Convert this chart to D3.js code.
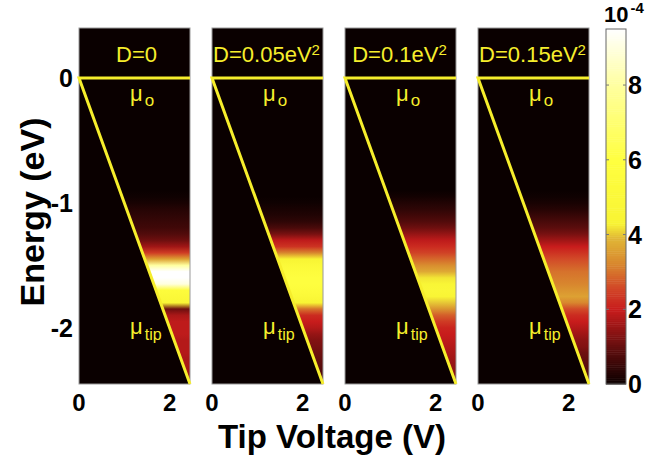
<!DOCTYPE html>
<html>
<head>
<meta charset="utf-8">
<script src="https://cdn.jsdelivr.net/npm/d3@7"></script>
<style>
  body { margin: 0; background: #fff; }
  text { font-family: "Liberation Sans", Arial, Helvetica, sans-serif; }
</style>
</head>
<body>
<div id="vis"></div>
<script>
// panel labels (D values)
const panelTitles = ['D=0', 'D=0.05eV', 'D=0.1eV', 'D=0.15eV'];
const panelSup = ['', '2', '2', '2'];

// energy rows (eV) of the band region, everything above is ~0
const energies = [-0.90, -0.95, -1.00, -1.05, -1.10, -1.15, -1.20, -1.25, -1.30, -1.35,
  -1.40, -1.45, -1.50, -1.55, -1.60, -1.65, -1.70, -1.75, -1.80, -1.85,
  -1.90, -1.95, -2.00, -2.05, -2.10, -2.15, -2.20, -2.25, -2.30, -2.35, -2.40, -2.45];

// intensity (x1e-4) per row, one list per panel
const intD0 = [0, 0.05, 0.15, 0.3, 0.4, 0.5, 0.6, 0.8, 1.1, 1.6,
  2.4, 3.6, 8.0, 9.5, 9.5, 9.0, 5.5, 5.0, 4.6, 1.1,
  1.7, 1.9, 1.9, 1.9, 1.8, 1.8, 1.8, 1.7, 1.7, 1.6, 1.6, 1.5];
const intD005 = [0, 0, 0.05, 0.15, 0.25, 0.4, 0.7, 1.2, 1.9, 2.3,
  3.2, 4.3, 5.0, 5.5, 5.8, 5.8, 5.5, 5.0, 4.3, 3.0,
  2.2, 2.0, 1.8, 1.5, 1.3, 1.2, 1.1, 1.0, 0.9, 0.8, 0.8, 0.7];
const intD01 = [0, 0.1, 0.25, 0.4, 0.6, 0.8, 1.1, 1.5, 1.9, 2.2,
  2.5, 2.9, 3.3, 3.7, 4.2, 4.6, 4.8, 4.5, 4.0, 3.4,
  2.8, 2.4, 2.1, 2.0, 1.9, 1.8, 1.7, 1.6, 1.5, 1.4, 1.3, 1.2];
const intD015 = [0, 0.05, 0.15, 0.3, 0.5, 0.7, 0.9, 1.2, 1.6, 2.0,
  2.3, 2.6, 2.8, 3.0, 3.1, 3.2, 3.4, 3.6, 3.2, 2.6,
  2.2, 2.0, 1.8, 1.6, 1.4, 1.3, 1.1, 1.0, 0.9, 0.8, 0.7, 0.6];
const panelData = [intD0, intD005, intD01, intD015];

// axis ticks
const yTicks = [0, -1, -2];
const xTicks = [0, 2];
const cbTicks = [0, 2, 4, 6, 8];

// colour map stops (value x1e-4 -> colour)
const cmapVals = [0, 1, 2, 2.6, 3.2, 3.9, 4.3, 6, 8, 9.5];
const cmapColors = ['#0a0000', '#640e0e', '#c81c1c', '#d24a28', '#d8862e', '#e0b636', '#f8f434', '#ffff40', '#ffffa0', '#ffffff'];

const W = 664, H = 457;
const plotTop = 28, plotBottom = 384;
const panelW = 111, panelStep = 133, firstLeft = 79;
const lineColor = '#f6ee2c';

const svg = d3.select('#vis').append('svg')
  .attr('width', W).attr('height', H);
const defs = svg.append('defs');

const yScale = d3.scaleLinear().domain([0.4, -2.45]).range([plotTop, plotBottom]);
const color = d3.scaleLinear().domain(cmapVals).range(cmapColors).clamp(true);

panelData.forEach((vals, i) => {
  const left = firstLeft + i * panelStep;
  const xScale = d3.scaleLinear().domain([0, 2.45]).range([left, left + panelW]);
  const g = svg.append('g');

  g.append('rect')
    .attr('x', left).attr('y', plotTop)
    .attr('width', panelW).attr('height', plotBottom - plotTop)
    .attr('fill', cmapColors[0]);

  // vertical colour profile of this panel
  const gradId = 'grad' + i;
  defs.append('linearGradient')
    .attr('id', gradId)
    .attr('gradientUnits', 'userSpaceOnUse')
    .attr('x1', 0).attr('x2', 0)
    .attr('y1', plotTop).attr('y2', plotBottom)
    .selectAll('stop')
    .data(energies.map((e, k) => ({ e, v: vals[k] })))
    .join('stop')
    .attr('offset', d => (yScale(d.e) - plotTop) / (plotBottom - plotTop))
    .attr('stop-color', d => color(d.v));

  // region right of mu_tip line
  const clipId = 'clip' + i;
  defs.append('clipPath').attr('id', clipId)
    .append('path')
    .attr('d', `M${xScale(0)},${yScale(0)}L${xScale(2.45)},${yScale(0)}L${xScale(2.45)},${yScale(-2.45)}Z`);

  g.append('rect')
    .attr('clip-path', `url(#${clipId})`)
    .attr('x', left).attr('y', plotTop)
    .attr('width', panelW).attr('height', plotBottom - plotTop)
    .attr('fill', `url(#${gradId})`);

  g.append('rect')
    .attr('x', left).attr('y', plotTop)
    .attr('width', panelW).attr('height', plotBottom - plotTop)
    .attr('fill', 'none').attr('stroke', '#9a9a9a').attr('stroke-width', 1);

  // mu_o and mu_tip lines
  g.append('path')
    .attr('d', d3.line()([[xScale(2.45), yScale(0)], [xScale(0), yScale(0)], [xScale(2.45), yScale(-2.45)]]))
    .attr('fill', 'none').attr('stroke', lineColor).attr('stroke-width', 3);

  const title = g.append('text')
    .attr('x', left + panelW / 2 + (panelSup[i] ? -1 : 2)).attr('y', 62)
    .attr('text-anchor', 'middle')
    .attr('fill', lineColor).attr('font-size', 22);
  title.append('tspan').text(panelTitles[i]);
  if (panelSup[i]) {
    title.append('tspan').attr('font-size', 15).attr('dy', -7).text(panelSup[i]);
  }

  const mu0 = g.append('text')
    .attr('x', left + 51).attr('y', 101)
    .attr('fill', lineColor).attr('font-size', 22);
  mu0.append('tspan').text('\u03bc');
  mu0.append('tspan').attr('font-size', 17).attr('dy', 5).attr('dx', 2).text('o');

  const muT = g.append('text')
    .attr('x', left + 51).attr('y', 334)
    .attr('fill', lineColor).attr('font-size', 22);
  muT.append('tspan').text('\u03bc');
  muT.append('tspan').attr('font-size', 16).attr('dy', 6).attr('dx', 2).text('tip');

  // x tick labels
  g.selectAll('.xt')
    .data(xTicks)
    .join('text')
    .attr('class', 'xt')
    .attr('x', d => xScale(d)).attr('y', 411)
    .attr('text-anchor', 'middle')
    .attr('font-size', 24).attr('font-weight', 'bold')
    .text(d => d);
});

// y tick labels
svg.selectAll('.yt')
  .data(yTicks)
  .join('text')
  .attr('class', 'yt')
  .attr('x', 73).attr('y', d => yScale(d) + 9)
  .attr('text-anchor', 'end')
  .attr('font-size', 25).attr('font-weight', 'bold')
  .text(d => d === 0 ? '0' : '-' + Math.abs(d));

svg.append('text')
  .attr('transform', `translate(44,${(plotTop + plotBottom) / 2 + 6}) rotate(-90)`)
  .attr('text-anchor', 'middle')
  .attr('font-size', 34).attr('font-weight', 'bold')
  .text('Energy (eV)');

svg.append('text')
  .attr('x', 332).attr('y', 448)
  .attr('text-anchor', 'middle')
  .attr('font-size', 33).attr('font-weight', 'bold')
  .text('Tip Voltage (V)');

// colour bar
const cbX = 606, cbW = 20;
const cbScale = d3.scaleLinear().domain([0, 9.5]).range([plotBottom, 29]);
const cbSteps = d3.range(0, 9.5, 0.05);
svg.append('g').selectAll('rect')
  .data(cbSteps)
  .join('rect')
  .attr('x', cbX).attr('width', cbW)
  .attr('y', d => cbScale(d + 0.05))
  .attr('height', d => cbScale(d) - cbScale(d + 0.05) + 0.5)
  .attr('fill', d => color(d + 0.025));
svg.append('rect')
  .attr('x', cbX).attr('y', cbScale(9.5))
  .attr('width', cbW).attr('height', cbScale(0) - cbScale(9.5))
  .attr('fill', 'none').attr('stroke', '#666').attr('stroke-width', 1);

const cbAxis = svg.append('g');
cbAxis.selectAll('.cbl')
  .data(cbTicks)
  .join('text')
  .attr('class', 'cbl')
  .attr('x', 628).attr('y', d => cbScale(d) + 9)
  .attr('font-size', 25).attr('font-weight', 'bold')
  .text(d => d);
cbAxis.selectAll('.cbt1')
  .data(cbTicks.slice(1))
  .join('line')
  .attr('class', 'cbt1')
  .attr('x1', cbX).attr('x2', cbX + 3)
  .attr('y1', d => cbScale(d)).attr('y2', d => cbScale(d))
  .attr('stroke', '#777');
cbAxis.selectAll('.cbt2')
  .data(cbTicks.slice(1))
  .join('line')
  .attr('class', 'cbt2')
  .attr('x1', cbX + cbW - 3).attr('x2', cbX + cbW)
  .attr('y1', d => cbScale(d)).attr('y2', d => cbScale(d))
  .attr('stroke', '#777');

const expo = svg.append('text')
  .attr('x', 604).attr('y', 22)
  .attr('font-size', 22).attr('font-weight', 'bold');
expo.append('tspan').text('10');
expo.append('tspan').attr('font-size', 15).attr('dy', -9).attr('dx', 2).text('-4');
</script>
</body>
</html>
